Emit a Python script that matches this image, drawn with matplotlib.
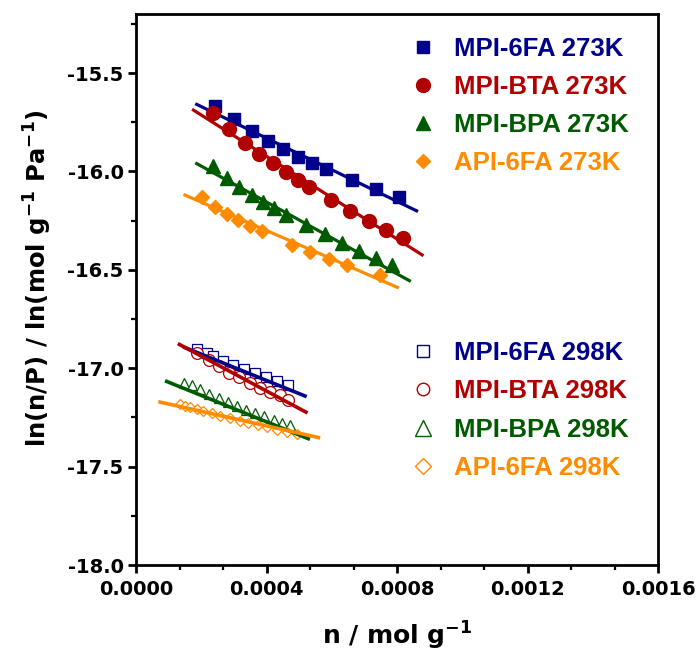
import numpy as np
import matplotlib
matplotlib.use("Agg")
import matplotlib.pyplot as plt
from matplotlib.lines import Line2D
from matplotlib.ticker import MultipleLocator, AutoMinorLocator, FormatStrFormatter

plt.rcParams['font.family'] = ['DejaVu Sans']
plt.rcParams['font.weight'] = 'bold'
plt.rcParams['axes.unicode_minus'] = False
plt.rcParams['mathtext.fontset'] = 'custom'
plt.rcParams['mathtext.rm'] = 'DejaVu Sans:bold'
plt.rcParams['mathtext.bf'] = 'DejaVu Sans:bold'

# adsorbed amount n (mol/g) and ln(n/P)
n_6fa_273 = np.array([2.42, 3.00, 3.55, 4.04, 4.52, 4.98, 5.40, 5.82, 6.61, 7.35, 8.05]) * 1e-4
y_6fa_273 = [-15.667, -15.735, -15.794, -15.845, -15.887, -15.926, -15.955, -15.985, -16.043, -16.087, -16.132]
n_bta_273 = np.array([2.35, 2.86, 3.34, 3.78, 4.19, 4.59, 4.96, 5.31, 5.97, 6.56, 7.13, 7.66, 8.18]) * 1e-4
y_bta_273 = [-15.701, -15.782, -15.853, -15.909, -15.958, -16.002, -16.043, -16.078, -16.144, -16.200, -16.251, -16.296, -16.338]
n_bpa_273 = np.array([2.37, 2.80, 3.17, 3.57, 3.90, 4.24, 4.59, 5.21, 5.79, 6.32, 6.84, 7.36, 7.84]) * 1e-4
y_bpa_273 = [-15.972, -16.031, -16.078, -16.119, -16.153, -16.188, -16.220, -16.272, -16.318, -16.364, -16.403, -16.440, -16.474]
n_api_273 = np.array([2.01, 2.43, 2.80, 3.14, 3.49, 3.85, 4.77, 5.33, 5.92, 6.46, 7.48]) * 1e-4
y_api_273 = [-16.132, -16.180, -16.217, -16.247, -16.279, -16.305, -16.374, -16.411, -16.445, -16.475, -16.524]

n_6fa_298 = np.array([1.86, 2.17, 2.37, 2.68, 2.98, 3.32, 3.65, 3.98, 4.31, 4.67]) * 1e-4
y_6fa_298 = [-16.900, -16.921, -16.939, -16.964, -16.982, -17.003, -17.023, -17.045, -17.065, -17.084]
n_bta_298 = np.array([1.86, 2.25, 2.54, 2.84, 3.16, 3.49, 3.80, 4.11, 4.41, 4.67]) * 1e-4
y_bta_298 = [-16.921, -16.957, -16.991, -17.023, -17.044, -17.074, -17.101, -17.121, -17.138, -17.163]
n_bpa_298 = np.array([1.47, 1.72, 1.96, 2.24, 2.53, 2.81, 3.10, 3.37, 3.65, 3.92, 4.22, 4.48, 4.72]) * 1e-4
y_bpa_298 = [-17.075, -17.087, -17.108, -17.130, -17.153, -17.173, -17.194, -17.210, -17.228, -17.244, -17.265, -17.277, -17.290]
n_api_298 = np.array([1.35, 1.50, 1.66, 1.86, 2.06, 2.32, 2.58, 2.88, 3.19, 3.44, 3.75, 4.01, 4.31, 4.62, 4.93]) * 1e-4
y_api_298 = [-17.182, -17.190, -17.199, -17.207, -17.215, -17.228, -17.241, -17.254, -17.266, -17.278, -17.288, -17.300, -17.312, -17.322, -17.334]

# linear fits (start/end of each fitted line)
fit_n_6fa_273, fit_y_6fa_273 = [1.86e-4, 8.60e-4], [-15.659, -16.200]
fit_n_bta_273, fit_y_bta_273 = [1.76e-4, 8.77e-4], [-15.688, -16.424]
fit_n_bpa_273, fit_y_bpa_273 = [1.86e-4, 8.38e-4], [-15.960, -16.555]
fit_n_api_273, fit_y_api_273 = [1.50e-4, 8.01e-4], [-16.120, -16.589]
fit_n_6fa_298, fit_y_6fa_298 = [1.50e-4, 5.18e-4], [-16.895, -17.141]
fit_n_bta_298, fit_y_bta_298 = [1.33e-4, 5.21e-4], [-16.879, -17.223]
fit_n_bpa_298, fit_y_bpa_298 = [0.94e-4, 5.28e-4], [-17.067, -17.358]
fit_n_api_298, fit_y_api_298 = [0.74e-4, 5.59e-4], [-17.172, -17.352]

labels_273 = ['MPI-6FA 273K', 'MPI-BTA 273K', 'MPI-BPA 273K', 'API-6FA 273K']
labels_298 = ['MPI-6FA 298K', 'MPI-BTA 298K', 'MPI-BPA 298K', 'API-6FA 298K']

blue, red, green, orange = '#00008B', '#B00000', '#005A00', '#FF8C00'
colors = [blue, red, green, orange]
markers = ['s', 'o', '^', 'D']
ms_273 = [8.5, 10, 10, 7.5]
ms_298 = [6.5, 8.5, 7.5, 5.2]

fig = plt.figure(figsize=(7, 6.59), dpi=100)
ax = fig.add_axes([0.1943, 0.1426, 0.7457, 0.8361])

data_273 = [(n_6fa_273, y_6fa_273), (n_bta_273, y_bta_273), (n_bpa_273, y_bpa_273), (n_api_273, y_api_273)]
fits_273 = [(fit_n_6fa_273, fit_y_6fa_273), (fit_n_bta_273, fit_y_bta_273),
            (fit_n_bpa_273, fit_y_bpa_273), (fit_n_api_273, fit_y_api_273)]
data_298 = [(n_6fa_298, y_6fa_298), (n_bta_298, y_bta_298), (n_bpa_298, y_bpa_298), (n_api_298, y_api_298)]
fits_298 = [(fit_n_6fa_298, fit_y_6fa_298), (fit_n_bta_298, fit_y_bta_298),
            (fit_n_bpa_298, fit_y_bpa_298), (fit_n_api_298, fit_y_api_298)]

# 273K: filled symbols over their fit lines
for (fx, fy), c in zip(fits_273, colors):
    ax.plot(fx, fy, color=c, lw=2.3, zorder=2)
for (x, y), c, m, ms in zip(data_273, colors, markers, ms_273):
    ax.plot(x, y, ls='none', marker=m, ms=ms, color=c, mec=c, zorder=3)

# 298K: open symbols, fit lines drawn on top
for (x, y), c, m, ms in zip(data_298, colors, markers, ms_298):
    ax.plot(x, y, ls='none', marker=m, ms=ms, mfc='white', mec=c, mew=0.9, zorder=3)
for (fx, fy), c in zip(fits_298, colors):
    ax.plot(fx, fy, color=c, lw=2.6, zorder=4)

ax.set_xlim(0, 0.0016)
ax.set_ylim(-18.0, -15.2)
ax.xaxis.set_major_locator(MultipleLocator(0.0004))
ax.xaxis.set_minor_locator(AutoMinorLocator(3))
ax.yaxis.set_major_locator(MultipleLocator(0.5))
ax.yaxis.set_minor_locator(AutoMinorLocator(2))
ax.xaxis.set_major_formatter(FormatStrFormatter('%.4f'))
ax.yaxis.set_major_formatter(FormatStrFormatter('%.1f'))
ax.tick_params(which='both', direction='out', top=False, right=False, labelsize=14)
ax.tick_params(which='major', length=6, width=2)
ax.tick_params(which='minor', length=3.5, width=1.6)
ax.tick_params(axis='x', pad=5)
ax.tick_params(axis='y', pad=3)
for sp in ax.spines.values():
    sp.set_linewidth(2)

ax.set_xlabel(r'n / mol g$\mathregular{^{-1}}$', fontsize=18, fontweight='bold')
ax.set_ylabel(r'ln(n/P) / ln(mol g$\mathregular{^{-1}}$ Pa$\mathregular{^{-1}}$)', fontsize=17.5, fontweight='bold')
ax.xaxis.set_label_coords(0.5, -0.1)
ax.yaxis.set_label_coords(-0.157, 0.52)

leg_ms_273 = [8, 10, 10, 7.5]
leg_ms_298 = [8.5, 9, 11, 8.5]
h273 = [Line2D([], [], ls='none', marker=m, ms=s, color=c, mec=c)
        for m, s, c in zip(markers, leg_ms_273, colors)]
h298 = [Line2D([], [], ls='none', marker=m, ms=s, mfc='white', mec=c, mew=1.0)
        for m, s, c in zip(markers, leg_ms_298, colors)]

leg_font = {'family': 'Liberation Sans', 'weight': 'bold', 'size': 18.5}
leg1 = ax.legend(h273, labels_273, loc='upper left', bbox_to_anchor=(0.525, 0.959),
                 frameon=False, prop=leg_font, handlelength=1.0, handletextpad=0.72,
                 labelspacing=0.55, borderpad=0, borderaxespad=0, labelcolor=colors)
ax.add_artist(leg1)
ax.legend(h298, labels_298, loc='upper left', bbox_to_anchor=(0.525, 0.407),
          frameon=False, prop=leg_font, handlelength=1.0, handletextpad=0.72,
          labelspacing=0.56, borderpad=0, borderaxespad=0, labelcolor=colors)

fig.savefig('out.png', dpi=100)
